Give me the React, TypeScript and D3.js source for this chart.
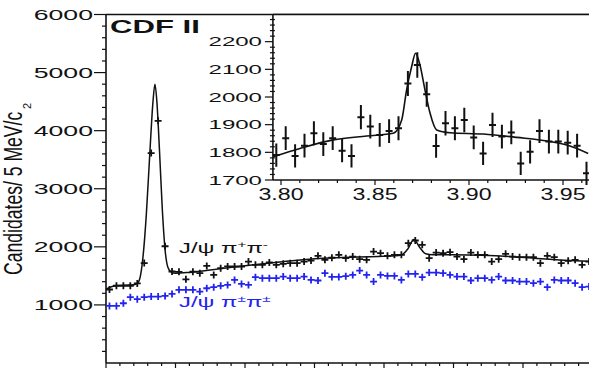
import React from "react";
import * as d3 from "d3";

const FONT = "'Liberation Sans', Arial, Helvetica, sans-serif";
const BLUE = "#2323f0";

// main plot: J/psi pi pi mass, 5 MeV/c^2 bins (GeV/c^2)
const massBins = [
  3.6525, 3.6575, 3.6625, 3.6675, 3.6725, 3.6775, 3.6825, 3.6875, 3.6925, 3.6975,
  3.7025, 3.7075, 3.7125, 3.7175, 3.7225, 3.7275, 3.7325, 3.7375, 3.7425, 3.7475,
  3.7525, 3.7575, 3.7625, 3.7675, 3.7725, 3.7775, 3.7825, 3.7875, 3.7925, 3.7975,
  3.8025, 3.8075, 3.8125, 3.8175, 3.8225, 3.8275, 3.8325, 3.8375, 3.8425, 3.8475,
  3.8525, 3.8575, 3.8625, 3.8675, 3.8725, 3.8775, 3.8825, 3.8875, 3.8925, 3.8975,
  3.9025, 3.9075, 3.9125, 3.9175, 3.9225, 3.9275, 3.9325, 3.9375, 3.9425, 3.9475,
  3.9525, 3.9575, 3.9625, 3.9675, 3.9725, 3.9775, 3.9825, 3.9875, 3.9925, 3.9975,
];

// J/psi pi+ pi-
const oppositeSign = [
  1265, 1330, 1330, 1330, 1370, 1720, 3615, 4170, 2010, 1575,
  1570, 1440, 1572, 1546, 1672, 1517, 1632, 1661, 1661, 1661,
  1747, 1690, 1690, 1730, 1690, 1707, 1718, 1718, 1747, 1764,
  1845, 1776, 1812, 1862, 1805, 1833, 1787, 1776, 1919, 1890,
  1845, 1862, 1862, 2063, 2109, 2034, 1805, 1902, 1890, 1908,
  1833, 1787, 1902, 1862, 1862, 1747, 1787, 1879, 1833, 1822,
  1822, 1822, 1718, 1845, 1822, 1718, 1759, 1776, 1690, 1747,
];

// J/psi pi± pi±
const sameSign = [
  983, 983, 1029, 1133, 1098, 1133, 1144, 1144, 1155, 1190,
  1259, 1259, 1259, 1230, 1287, 1305, 1328, 1345, 1431, 1362,
  1345, 1477, 1460, 1460, 1460, 1488, 1460, 1460, 1488, 1431,
  1420, 1546, 1482, 1482, 1494, 1517, 1592, 1517, 1402, 1517,
  1500, 1500, 1431, 1534, 1534, 1477, 1557, 1557, 1546, 1517,
  1488, 1488, 1420, 1460, 1460, 1431, 1488, 1420, 1420, 1402,
  1402, 1374, 1402, 1305, 1431, 1420, 1420, 1374, 1305, 1316,
];

// fit curve
const fitMass = [
  3.65, 3.655, 3.66, 3.665, 3.67, 3.6725, 3.6745, 3.6765, 3.679, 3.6815,
  3.6838, 3.6852, 3.6866, 3.6885, 3.6905, 3.6925, 3.6945, 3.6968, 3.7, 3.71,
  3.725, 3.75, 3.775, 3.8, 3.82, 3.84, 3.858, 3.863, 3.867, 3.8715,
  3.876, 3.88, 3.885, 3.9, 3.92, 3.94, 3.96, 3.98, 4.0,
];
const fitValue = [
  1270, 1322, 1335, 1340, 1348, 1370, 1470, 1800, 2550, 3600,
  4500, 4800, 4500, 3650, 2650, 1950, 1650, 1570, 1545, 1560,
  1600, 1675, 1740, 1795, 1815, 1830, 1845, 1865, 1960, 2125,
  1980, 1880, 1862, 1862, 1855, 1835, 1800, 1770, 1750,
];

// inset: X(3872) region
const insetBins = [
  3.7975, 3.8025, 3.8075, 3.8125, 3.8175, 3.8225, 3.8275, 3.8325, 3.8375, 3.8425,
  3.8475, 3.8525, 3.8575, 3.8625, 3.8675, 3.8725, 3.8775, 3.8825, 3.8875, 3.8925,
  3.8975, 3.9025, 3.9075, 3.9125, 3.9175, 3.9225, 3.9275, 3.9325, 3.9375, 3.9425,
  3.9475, 3.9525, 3.9575, 3.9625,
];
const insetCounts = [
  1790, 1851, 1787, 1824, 1869, 1830, 1851, 1806, 1787, 1927,
  1893, 1863, 1877, 1887, 2049, 2116, 2010, 1823, 1905, 1887,
  1917, 1854, 1796, 1899, 1857, 1872, 1760, 1802, 1877, 1839,
  1839, 1835, 1824, 1724,
];
const insetErrors = [
  42, 43, 42, 43, 43, 43, 43, 42, 42, 44,
  43, 43, 43, 43, 45, 46, 45, 43, 44, 43,
  44, 43, 42, 44, 43, 43, 42, 42, 43, 43,
  43, 43, 43, 42,
];
const insetFitMass = [
  3.7959, 3.8101, 3.8278, 3.8456, 3.8597, 3.8642, 3.8668, 3.8695, 3.8716, 3.8739,
  3.8766, 3.8793, 3.8828, 3.8899, 3.9076, 3.9254, 3.9431, 3.9537, 3.9634,
];
const insetFitValue = [
  1784, 1814, 1845, 1859, 1869, 1917, 2025, 2110, 2158, 2116,
  2025, 1941, 1881, 1871, 1866, 1854, 1839, 1823, 1796,
];

const yTicks = [1000, 2000, 3000, 4000, 5000, 6000];
const insetYTicks = [1700, 1800, 1900, 2000, 2100, 2200];
const insetXTicks = [3.8, 3.85, 3.9, 3.95];
const insetXLabels = ["3.80", "3.85", "3.90", "3.95"];

const W = 589;
const H = 371;

function SText(props: any) {
  const { x, y, sx = 1, size, anchor = "start", weight = "normal", fill = "#111", rotate, children } = props;
  const t = `translate(${x},${y}) scale(${sx},1)` + (rotate ? ` rotate(${rotate})` : "");
  return (
    <text transform={t} fontSize={size} textAnchor={anchor} fontWeight={weight} fill={fill} fontFamily={FONT}>
      {children}
    </text>
  );
}

export default function App() {
  const x = d3.scaleLinear().domain([3.65, 4.0]).range([106, 592.5]);
  const y = d3.scaleLinear().domain([0, 6000]).range([363, 14.5]);
  const ix = d3.scaleLinear().domain([3.8, 3.95]).range([281, 563]);
  const iy = d3.scaleLinear().domain([1700, 2300]).range([180, 14]);

  const halfBin = 0.0025;
  const insetLeft = ix(3.7957);
  const top = y(6000);

  const fitLine = d3
    .line<number>()
    .x((_, i) => x(fitMass[i]))
    .y((v) => y(v))
    .curve(d3.curveMonotoneX);
  const insetFitLine = d3
    .line<number>()
    .x((_, i) => ix(insetFitMass[i]))
    .y((v) => iy(v))
    .curve(d3.curveMonotoneX);

  const cross = (cx: number, cy: number, hw: number, hh: number) =>
    `M${cx - hw},${cy}H${cx + hw}M${cx},${cy - hh}V${cy + hh}`;

  const mainCross = (vals: number[]) =>
    vals
      .map((v, i) => {
        const m = massBins[i];
        const hw = (x(m + halfBin) - x(m - halfBin)) / 2;
        return cross(x(m), y(v), hw, 3.5);
      })
      .join("");

  const insetPath = insetCounts
    .map((v, i) => {
      const m = insetBins[i];
      const cx = ix(m);
      const cy = iy(v);
      const e = iy(v - insetErrors[i]) - cy;
      return `M${cx - 3.5},${cy}H${cx + 3.5}M${cx},${cy - e}V${cy + e}`;
    })
    .join("");

  const yMinor = d3.range(200, 6000, 200).filter((v) => v % 1000 !== 0);
  const xTickVals = d3.range(0, 36).map((i) => ({ v: 3.65 + i * 0.01, major: i % 5 === 0 }));
  const iyMinor = d3.range(1700, 2300, 20).filter((v) => v % 100 !== 0);
  const ixTickVals = d3.range(0, 18).map((i) => ({ v: 3.8 + i * 0.01, major: i % 5 === 0 }));

  return (
    <svg
      width={W}
      height={H}
      style={{ position: "absolute", left: 0, top: 0, display: "block", background: "#fff" }}
    >
      <rect width={W} height={H} fill="#fff" />

      {/* main frame */}
      <g stroke="#111" strokeWidth={1.6} fill="none">
        <line x1={x(3.65)} x2={W} y1={top} y2={top} />
        <line x1={x(3.65)} x2={x(3.65)} y1={top} y2={y(0)} />
        <line x1={x(3.65)} x2={W} y1={y(0)} y2={y(0)} />
      </g>
      <g stroke="#111" strokeWidth={1.2}>
        {yTicks.map((t) => (
          <line key={t} x1={x(3.65) - 12} x2={x(3.65)} y1={y(t)} y2={y(t)} />
        ))}
        {yMinor.map((t) => (
          <line key={t} x1={x(3.65) - 4} x2={x(3.65)} y1={y(t)} y2={y(t)} />
        ))}
        {xTickVals.map((t) => (
          <line key={t.v} x1={x(t.v)} x2={x(t.v)} y1={y(0)} y2={y(0) + (t.major ? 5 : 3)} />
        ))}
      </g>
      {yTicks.map((t) => (
        <SText key={t} x={93} y={y(t) + 5.5} sx={1.72} size={15.5} anchor="end">
          {t}
        </SText>
      ))}

      {/* axis title */}
      <SText x={22} y={275} sx={1.43} size={17.6} rotate={-90}>
        Candidates/ 5 MeV/c
      </SText>
      <SText x={31} y={109} size={11} rotate={-90}>
        2
      </SText>

      {/* fit and data */}
      <path d={fitLine(fitValue) || ""} fill="none" stroke="#111" strokeWidth={1.5} />
      <path d={mainCross(oppositeSign)} fill="none" stroke="#111" strokeWidth={1.8} />
      <path d={mainCross(sameSign)} fill="none" stroke={BLUE} strokeWidth={1.8} />

      <SText x={179} y={253} sx={1.7} size={14}>
        J/ψ  π<tspan dy={-5} fontSize={9}>+</tspan>
        <tspan dy={5}>π</tspan>
        <tspan dy={-5} fontSize={9}>-</tspan>
      </SText>
      <SText x={179} y={307} sx={1.7} size={14} fill={BLUE}>
        J/ψ  π<tspan dy={-5} fontSize={9}>±</tspan>
        <tspan dy={5}>π</tspan>
        <tspan dy={-5} fontSize={9}>±</tspan>
      </SText>

      <SText x={110} y={33} sx={1.73} size={18} weight="bold">
        CDF II
      </SText>

      {/* inset */}
      <rect x={insetLeft} y={top} width={W - insetLeft} height={iy(1700) - top} fill="#fff" />
      <g stroke="#111" strokeWidth={1.6} fill="none">
        <line x1={insetLeft} x2={insetLeft} y1={top} y2={iy(1700)} />
        <line x1={insetLeft} x2={W} y1={iy(1700)} y2={iy(1700)} />
        <line x1={insetLeft} x2={W} y1={top} y2={top} />
      </g>
      <g stroke="#111" strokeWidth={1.2}>
        {insetYTicks.map((t) => (
          <line key={t} x1={insetLeft - 8} x2={insetLeft} y1={iy(t)} y2={iy(t)} />
        ))}
        {iyMinor.map((t) => (
          <line key={t} x1={insetLeft - 3} x2={insetLeft + 2} y1={iy(t)} y2={iy(t)} />
        ))}
        {ixTickVals.map((t) => (
          <line key={t.v} x1={ix(t.v)} x2={ix(t.v)} y1={iy(1700)} y2={iy(1700) + (t.major ? 5 : 3)} />
        ))}
      </g>
      {insetYTicks.map((t) => (
        <SText key={t} x={262} y={iy(t) + 4.7} sx={1.85} size={13} anchor="end">
          {t}
        </SText>
      ))}
      {insetXTicks.map((t, i) => (
        <SText key={t} x={ix(t)} y={199.5} sx={1.45} size={16} anchor="middle">
          {insetXLabels[i]}
        </SText>
      ))}
      <path d={insetFitLine(insetFitValue) || ""} fill="none" stroke="#111" strokeWidth={1.6} />
      <path d={insetPath} fill="none" stroke="#111" strokeWidth={2} />
    </svg>
  );
}
